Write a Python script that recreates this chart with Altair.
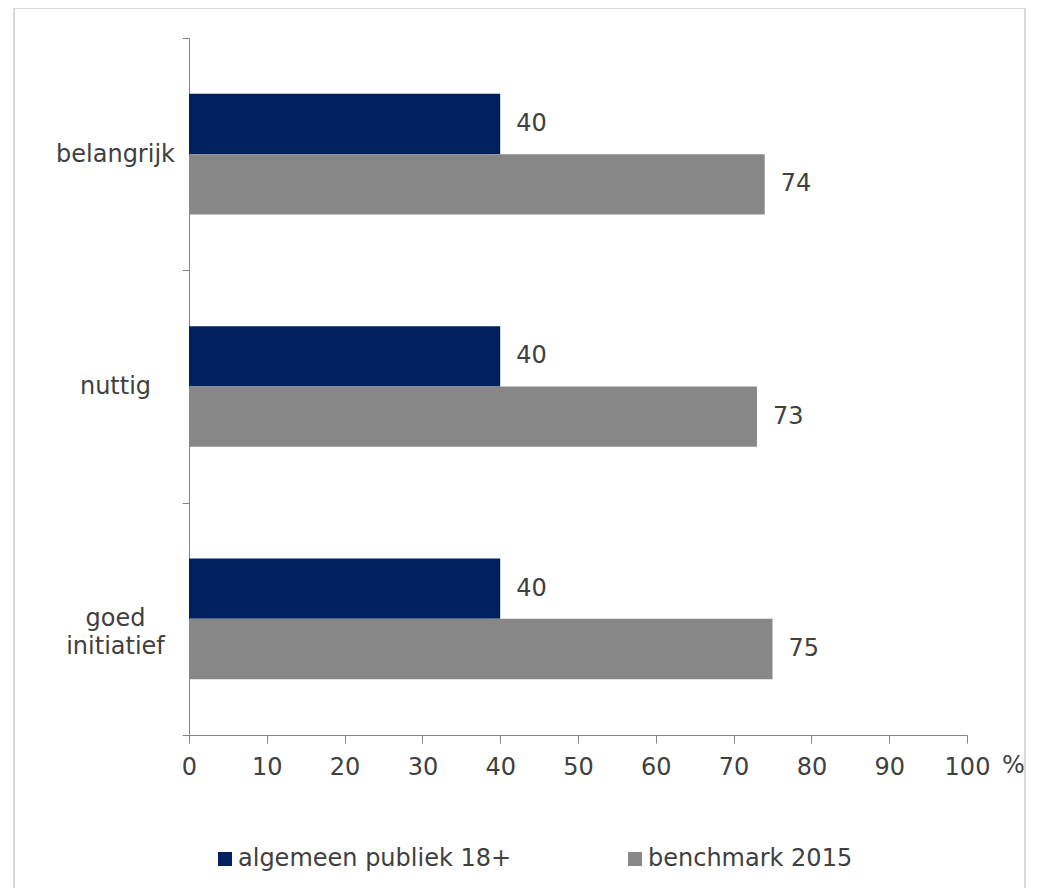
import altair as alt
import pandas as pd

categories = ["belangrijk", "nuttig", "goed initiatief"]
series = ["algemeen publiek 18+", "benchmark 2015"]
values_publiek = [40, 40, 40]
values_benchmark = [74, 73, 75]
x_ticks = [0, 10, 20, 30, 40, 50, 60, 70, 80, 90, 100]
colors = ["#002060", "#878787"]

rows = []
for c, a, b in zip(categories, values_publiek, values_benchmark):
    rows.append({"categorie": c, "reeks": series[0], "waarde": a})
    rows.append({"categorie": c, "reeks": series[1], "waarde": b})
df = pd.DataFrame(rows)

FONT = "DejaVu Sans"
TXT = "#404040"
AX = "#868686"

y_enc = alt.Y(
    "categorie:N",
    sort=categories,
    scale=alt.Scale(paddingInner=0, paddingOuter=0),
    axis=alt.Axis(
        title=None,
        tickBand="extent",
        tickSize=7,
        tickColor=AX,
        domainColor=AX,
        labelAlign="center",
        labelBaseline="middle",
        labelPadding=67,
        labelFont=FONT,
        labelFontSize=24,
        labelColor=TXT,
        labelLineHeight=28,
        labelExpr="datum.value == 'goed initiatief' ? ['goed', 'initiatief'] : datum.value",
    ),
)
yoff_enc = alt.YOffset(
    "reeks:N", sort=series, scale=alt.Scale(paddingInner=0, paddingOuter=0.925)
)
x_enc = alt.X(
    "waarde:Q",
    scale=alt.Scale(domain=[0, 100], nice=False),
    axis=alt.Axis(
        title="%",
        values=x_ticks,
        grid=False,
        tickSize=8,
        tickColor=AX,
        domainColor=AX,
        labelFlush=False,
        labelOverlap=False,
        labelFont=FONT,
        labelFontSize=24,
        labelColor=TXT,
        labelBaseline="middle",
        labelPadding=24,
        titleFont=FONT,
        titleFontSize=24,
        titleFontWeight="normal",
        titleColor=TXT,
        titleX=824,
        titleY=30,
        titleAlign="center",
        titleBaseline="middle",
    ),
)

bars = alt.Chart(df).mark_bar().encode(
    x=x_enc,
    y=y_enc,
    yOffset=yoff_enc,
    color=alt.Color(
        "reeks:N",
        sort=series,
        scale=alt.Scale(domain=series, range=colors),
        legend=alt.Legend(
            title=None,
            orient="none",
            legendX=24,
            legendY=809,
            direction="horizontal",
            columns=2,
            columnPadding=111,
            padding=0,
            symbolType="square",
            symbolSize=196,
            symbolStrokeWidth=0,
            labelOffset=1,
            labelFont=FONT,
            labelFontSize=24,
            labelColor=TXT,
            labelLimit=400,
        ),
    ),
)

labels = alt.Chart(df).mark_text(
    align="left", baseline="middle", dx=16, font=FONT, fontSize=24, color=TXT
).encode(
    x="waarde:Q",
    y=alt.Y("categorie:N", sort=categories),
    yOffset=alt.YOffset("reeks:N", sort=series),
    text="waarde:Q",
)

frame = alt.Chart(pd.DataFrame({"f": [0]})).mark_rect(
    fill="transparent", stroke="#d9d9d9", strokeWidth=2
).encode(
    x=alt.value(-175), x2=alt.value(836), y=alt.value(-30), y2=alt.value(855)
)

chart = (
    alt.layer(frame, bars, labels)
    .properties(
        width=778,
        height=697,
        background="white",
        padding={"left": 181, "top": 30, "right": 68, "bottom": 153},
        autosize=alt.AutoSizeParams(type="none"),
    )
    .configure_view(strokeWidth=0, stroke="transparent")
)

chart.save("out.html", embed_options={"renderer": "svg", "actions": False})
